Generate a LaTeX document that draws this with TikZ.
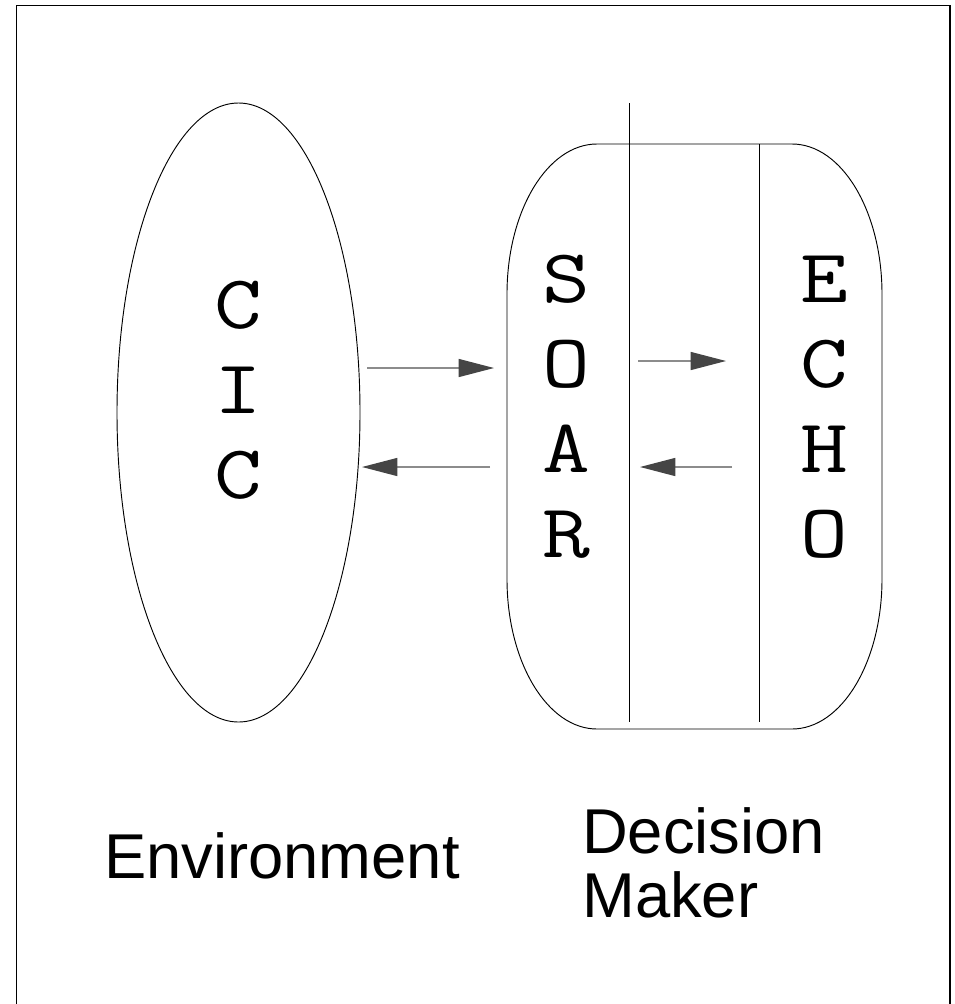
\documentclass[tikz,border=0pt]{standalone}
\usepackage{fontspec}
\setmainfont{Liberation Sans}
\usetikzlibrary{arrows.meta,shapes.geometric}
\definecolor{shaft}{HTML}{8C8C8C}
\definecolor{headgray}{HTML}{454545}
\newcommand\wideletter[1]{\scalebox{1.22}[1]{#1}}
\tikzset{
  outline/.style={line width=0.7pt, draw=black},
  flow/.style={draw=shaft, line width=1pt,
    -{Triangle[length=26.5pt, width=13.5pt, color=headgray]}},
  letter/.style={anchor=base, inner sep=0pt, font=\ttfamily\fontsize{57}{57}\selectfont},
  caption/.style={anchor=base west, inner sep=0pt, align=left,
    font=\fontsize{47.5}{48}\selectfont},
}
\begin{document}
\begin{tikzpicture}[x=0.75pt, y=-0.75pt]
  \useasboundingbox (0,0) rectangle (954,1004);
  % outer frame, open at the bottom
  \draw[line width=1.2pt] (16.5,1010) -- (16.5,5.5) -- (950,5.5) -- (950,1010);

  % environment
  \node[outline, ellipse, minimum width=182.25pt, minimum height=464.25pt, inner sep=0pt]
    (env) at (238.5,412.5) {};
  \foreach \ch [count=\i] in {C,I,C}
    \node[letter] (cic\i) at (238.5, 328+85*\i-85) {\wideletter{\ch}};

  % decision maker: box with elliptical corners
  \def\bl{507}\def\br{882}\def\bt{144}\def\bb{729}
  \def\rx{90}\def\ry{150}\def\k{0.4477}
  \draw[outline]
    (\bl+\rx,\bt) -- (\br-\rx,\bt)
      .. controls (\br-\rx*\k,\bt) and (\br,\bt+\ry*\k) .. (\br,\bt+\ry)
    -- (\br,\bb-\ry)
      .. controls (\br,\bb-\ry*\k) and (\br-\rx*\k,\bb) .. (\br-\rx,\bb)
    -- (\bl+\rx,\bb)
      .. controls (\bl+\rx*\k,\bb) and (\bl,\bb-\ry*\k) .. (\bl,\bb-\ry)
    -- (\bl,\bt+\ry)
      .. controls (\bl,\bt+\ry*\k) and (\bl+\rx*\k,\bt) .. (\bl+\rx,\bt);
  \coordinate (div1top) at (629.5,103);
  \coordinate (div1bot) at (629.5,722);
  \coordinate (div2top) at (759.5,144);
  \coordinate (div2bot) at (759.5,722);
  \draw[outline] (div1top) -- (div1bot);
  \draw[outline] (div2top) -- (div2bot);

  \foreach \ch [count=\i] in {S,O,A,R}
    \node[letter] (soar\i) at (566, 302+85*\i-85) {\wideletter{\ch}};
  \foreach \ch [count=\i] in {E,C,H,O}
    \node[letter] (echo\i) at (824.5, 302+85*\i-85) {\wideletter{\ch}};

  % information flow
  \coordinate (envout) at (367,368);
  \coordinate (soarin) at (494,368);
  \coordinate (soarout) at (490,467);
  \coordinate (envin) at (362,467);
  \coordinate (toecho) at (638,361);
  \coordinate (echoin) at (726,361);
  \coordinate (echoout) at (732,467);
  \coordinate (fromecho) at (640,467);
  \draw[flow] (envout) -- (soarin);
  \draw[flow] (soarout) -- (envin);
  \draw[flow] (toecho) -- (echoin);
  \draw[flow] (echoout) -- (fromecho);

  % captions
  \node[caption] (envlabel) at (104,878) {Environment};
  \node[caption] (dmlabel) at (582,917) {Decision\\Maker};
\end{tikzpicture}
\end{document}
